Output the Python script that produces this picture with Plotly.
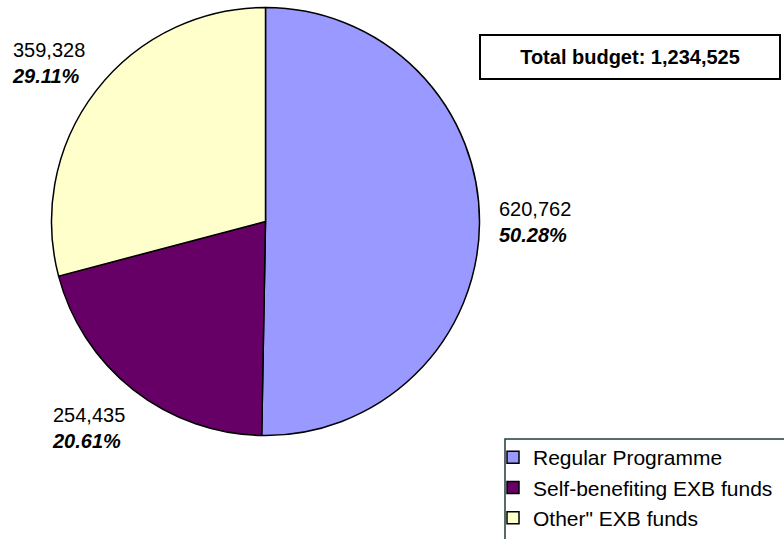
import plotly.graph_objects as go

categories = ["Regular Programme", "Self-benefiting EXB funds", "Other\" EXB funds"]
values = [620762, 254435, 359328]
colors = ["#9999FF", "#660066", "#FFFFCC"]

W, H = 784, 539
FONT = "Liberation Sans, Arial, sans-serif"

def px(x):
    return x / W

def py(y):
    return 1 - y / H

total = sum(values)
pcts = [v / total * 100 for v in values]

fig = go.Figure()
cx, cy, r = 265.5, 221.5, 214
fig.add_trace(go.Pie(
    labels=categories,
    values=values,
    sort=False,
    direction="clockwise",
    rotation=0,
    marker=dict(colors=colors, line=dict(color="black", width=1.5)),
    textinfo="none",
    hoverinfo="none",
    domain=dict(x=[px(cx - r), px(cx + r)], y=[py(cy + r), py(cy - r)]),
))

# label positions (left x, block center y) in pixels
label_pos = [(497, 222), (50, 428), (10, 63)]
for i, (lx, ly) in enumerate(label_pos):
    fig.add_annotation(
        xref="paper", yref="paper", x=px(lx), y=py(ly),
        xanchor="left", yanchor="middle", align="left",
        text=f"{values[i]:,}<br><b><i>{pcts[i]:.2f}%</i></b>",
        showarrow=False,
        font=dict(family=FONT, size=20, color="black"),
    )

# total budget box
fig.add_annotation(
    xref="paper", yref="paper", x=px(630), y=py(57),
    xanchor="center", yanchor="middle",
    text=f"<b>Total budget: {total:,}</b>",
    showarrow=False, width=296, height=40,
    bordercolor="black", borderwidth=2, bgcolor="white",
    font=dict(family=FONT, size=20, color="black"),
)

# legend frame
fig.add_shape(type="rect", xref="paper", yref="paper",
              x0=px(505), x1=px(800), y0=py(560), y1=py(439),
              line=dict(color="#1f3b3b", width=1.5), fillcolor="rgba(0,0,0,0)")

fig.update_layout(
    width=W, height=H,
    margin=dict(l=0, r=0, t=0, b=0),
    paper_bgcolor="white", plot_bgcolor="white",
    showlegend=True,
    legend=dict(x=px(493), y=py(437), xanchor="left", yanchor="top",
                font=dict(family=FONT, size=21, color="black"),
                bgcolor="rgba(0,0,0,0)", borderwidth=0, tracegroupgap=0),
)

fig.write_html("out.html",
               config={"displayModeBar": False},
               post_script="document.body.style.margin='0';document.body.style.overflow='hidden';")
